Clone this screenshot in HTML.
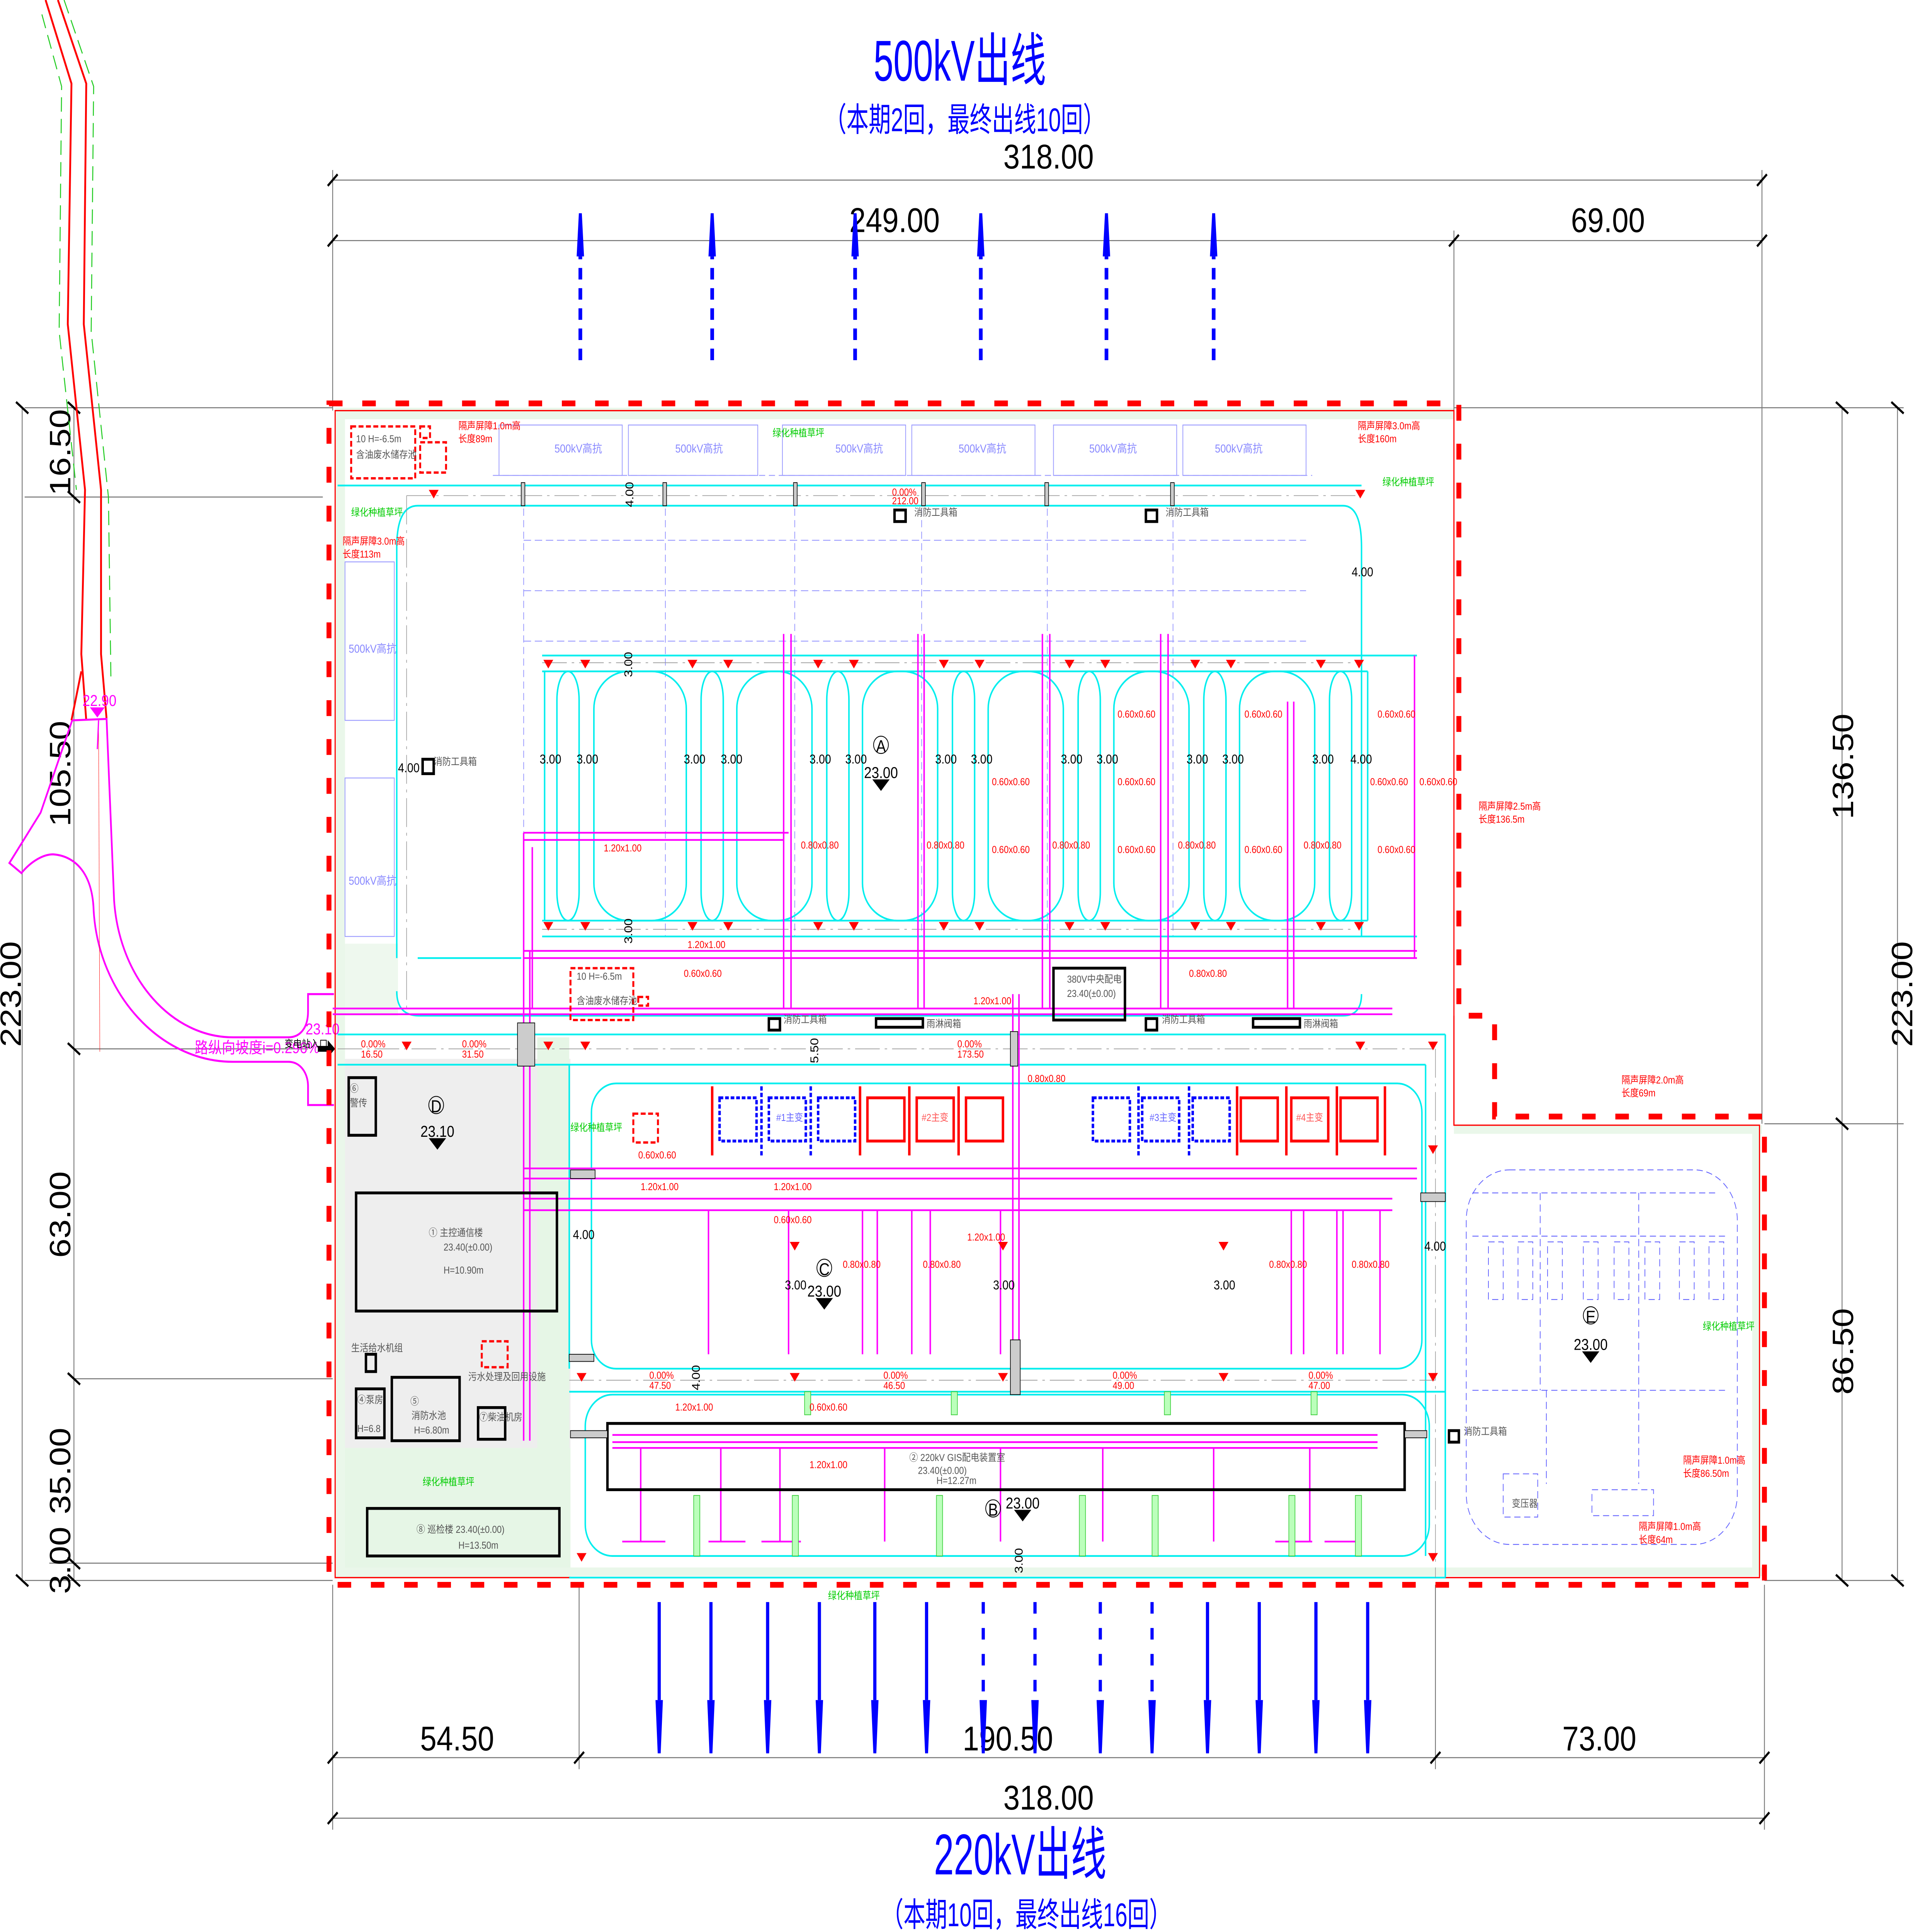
<!DOCTYPE html>
<html><head><meta charset="utf-8"><style>
html,body{margin:0;padding:0;background:#fff;width:100%;height:100%;overflow:hidden;}
svg{display:block;position:fixed;left:0;top:0;width:100vw;height:100vh;}
text{font-family:"Liberation Sans Narrow","Liberation Sans","Noto Sans CJK SC",sans-serif;}
</style></head><body>
<svg viewBox="0 0 1568 1341" preserveAspectRatio="none" xmlns="http://www.w3.org/2000/svg">
<defs>
<g id="rt"><path d="M-4,0 L4,0 L0,6 Z" fill="#f00"/></g>
<g id="bt"><path d="M-7,0 L7,0 L0,8 Z" fill="#000"/></g>
<g id="ad"><rect x="-1.3" y="0" width="2.6" height="68" fill="#00f"/><path d="M-3,68 L3,68 L1.2,105 L-1.2,105 Z" fill="#00f"/></g>
<g id="add"><path d="M0,0 V68" stroke="#00f" stroke-width="2.6" stroke-dasharray="8,10"/><path d="M-3,68 L3,68 L1.2,105 L-1.2,105 Z" fill="#00f"/></g>
<g id="au"><path d="M0,102 V30" stroke="#00f" stroke-width="3" stroke-dasharray="8,6"/><path d="M-3,30 L3,30 L1.2,0 L-1.2,0 Z" fill="#00f"/></g>
</defs>
<rect width="1568" height="1341" fill="#fff"/>

<rect x="273" y="655" width="50" height="50" fill="#eef8ee"/>
<rect x="273" y="735" width="190" height="270" fill="#eeeeee"/>
<rect x="273" y="1005" width="190" height="90" fill="#e6f6e6"/>
<rect x="436" y="720" width="26" height="285" fill="#e6f6e6"/>
<rect x="272" y="283" width="908" height="8" fill="#eaf7ea"/>
<rect x="272" y="283" width="8" height="812" fill="#eaf7ea"/>
<rect x="1180" y="781" width="250" height="6" fill="#eaf7ea"/>
<rect x="1422" y="781" width="7" height="312" fill="#eaf7ea"/>
<rect x="272" y="1088" width="1158" height="6" fill="#eaf7ea"/>

<g stroke="#777" stroke-width="0.7" fill="none">
<path d="M270,125 H1430 M270,167 H1430 M470,1220 H1432 M270,1220 H470 M270,1262 H1432"/>
<path d="M270,118 V285 M1430,118 V780 M1180,160 V285"/>
<path d="M270,1100 V1270 M470,1100 V1228 M1165,1100 V1228 M1432,1100 V1270"/>
<path d="M60,283 V1097 M18,283 V1097 M20,283 H270 M20,345 H262 M60,728 H250 M60,957 H270 M20,1097 H270 M40,1085 H270"/>
<path d="M1495,283 V1097 M1540,283 V1097 M1180,283 H1545 M1432,780 H1545 M1432,1097 H1545"/>
</g>
<g stroke="#000" stroke-width="1.6">
<path d="M266,129 L274,121 M1426,129 L1434,121 M266,171 L274,163 M1176,171 L1184,163 M1426,171 L1434,163"/>
<path d="M266,1224 L274,1216 M466,1224 L474,1216 M1161,1224 L1169,1216 M1428,1224 L1436,1216 M266,1266 L274,1258 M1428,1266 L1436,1258"/>
<path d="M55,279 L65,287 M55,341 L65,349 M55,724 L65,732 M55,953 L65,961 M55,1081 L65,1089 M55,1093 L65,1101 M13,279 L23,287 M13,1093 L23,1101"/>
<path d="M1490,279 L1500,287 M1490,776 L1500,784 M1490,1093 L1500,1101 M1535,279 L1545,287 M1535,1093 L1545,1101"/>
</g>
<g fill="#000" font-size="24">
<text x="851" y="117" text-anchor="middle">318.00</text>
<text x="726" y="161" text-anchor="middle">249.00</text>
<text x="1305" y="161" text-anchor="middle">69.00</text>
<text x="371" y="1215" text-anchor="middle">54.50</text>
<text x="818" y="1215" text-anchor="middle">190.50</text>
<text x="1298" y="1215" text-anchor="middle">73.00</text>
<text x="851" y="1256" text-anchor="middle">318.00</text>
<text transform="translate(57,314) rotate(-90)" text-anchor="middle">16.50</text>
<text transform="translate(57,537) rotate(-90)" text-anchor="middle">105.50</text>
<text transform="translate(17,690) rotate(-90)" text-anchor="middle">223.00</text>
<text transform="translate(57,843) rotate(-90)" text-anchor="middle">63.00</text>
<text transform="translate(57,1021) rotate(-90)" text-anchor="middle">35.00</text>
<text transform="translate(57,1083) rotate(-90)" text-anchor="middle">3.00</text>
<text transform="translate(1504,532) rotate(-90)" text-anchor="middle">136.50</text>
<text transform="translate(1552,690) rotate(-90)" text-anchor="middle">223.00</text>
<text transform="translate(1504,938) rotate(-90)" text-anchor="middle">86.50</text>
</g>

<text x="779" y="56" fill="#00f" font-size="40" text-anchor="middle" textLength="140" lengthAdjust="spacingAndGlyphs">500kV出线</text>
<text x="783" y="91" fill="#00f" font-size="23" text-anchor="middle" textLength="228" lengthAdjust="spacingAndGlyphs">（本期2回，最终出线10回）</text>
<text x="828" y="1301" fill="#00f" font-size="40" text-anchor="middle" textLength="140" lengthAdjust="spacingAndGlyphs">220kV出线</text>
<text x="833" y="1337" fill="#00f" font-size="23" text-anchor="middle" textLength="235" lengthAdjust="spacingAndGlyphs">（本期10回，最终出线16回）</text>

<use href="#au" x="471" y="148"/><use href="#au" x="578" y="148"/><use href="#au" x="694" y="148"/>
<use href="#au" x="796" y="148"/><use href="#au" x="898" y="148"/><use href="#au" x="985" y="148"/>
<use href="#ad" x="535" y="1112"/><use href="#ad" x="577" y="1112"/><use href="#ad" x="623" y="1112"/>
<use href="#ad" x="665" y="1112"/><use href="#ad" x="710" y="1112"/><use href="#ad" x="752" y="1112"/>
<use href="#add" x="798" y="1112"/><use href="#add" x="840" y="1112"/><use href="#add" x="893" y="1112"/><use href="#add" x="935" y="1112"/>
<use href="#ad" x="980" y="1112"/><use href="#ad" x="1022" y="1112"/><use href="#ad" x="1068" y="1112"/><use href="#ad" x="1110" y="1112"/>

<g fill="none">
<path d="M37,0 L58,58 L55,225 L69,340 L66,454 L70,500" stroke="#f00" stroke-width="1.5"/>
<path d="M47,0 L70,58 L68,225 L82,340 L82,454 L86.5,499" stroke="#f00" stroke-width="1.5"/>
<path d="M66,466 L58,500" stroke="#f00" stroke-width="1.5"/>
<path d="M52,0 L76,60 L74,230 L88,345 L90,470" stroke="#2c2" stroke-width="0.8" stroke-dasharray="10,5"/>
<path d="M34,10 L50,60 L48,230 L62,340" stroke="#2c2" stroke-width="0.8" stroke-dasharray="10,5"/>
<path d="M58.6,500 L33,564 L7.6,599 L17.4,606 C25,598 35,593 43,593 C60,594 75,605 76,632 C80,690 130,737 189,737 L234,737 C244,737 250,745 250,754 L250,767 L271,767" stroke="#f0f" stroke-width="1.4"/>
<path d="M58.6,500 L86.5,499 L92.6,625 C97,680 140,720 189,720 L234,720 C244,720 250,713 250,702 L250,690 L271,690" stroke="#f0f" stroke-width="1.4"/>
<path d="M80,500 L81,730" stroke="#f00" stroke-width="0.3"/>
<path d="M80,500 L79,520" stroke="#f0f" stroke-width="1"/>
</g>
<path d="M73,491 L85,491 L79,498 Z" fill="#f0f"/>
<text x="67" y="490" fill="#f0f" font-size="11">22.90</text>
<text x="158" y="731" fill="#f0f" font-size="11">路纵向坡度i=0.296%</text>
<text x="231" y="727" fill="#000" font-size="7">变电站入口</text>
<text x="248" y="718" fill="#f0f" font-size="11">23.10</text>
<path d="M258,726 L266,726 L266,722 L272,728 L266,734 L266,730 L258,730 Z" fill="#000"/>

<path d="M267,280 H1184 V705 H1213 V775 H1432 V1100 H267 Z" fill="none" stroke="#f00" stroke-width="4" stroke-dasharray="11,16"/>
<path d="M272,285 H1180 V781 H1428 V1095 H272 Z" fill="none" stroke="#f00" stroke-width="0.9"/>
<path d="M1180,705 V781" stroke="#f00" stroke-width="0.9"/>

<g fill="none" stroke="#99f" stroke-width="0.6">
<rect x="405" y="295" width="100" height="35"/><rect x="510" y="295" width="105" height="35"/>
<rect x="635" y="295" width="100" height="35"/><rect x="740" y="295" width="100" height="35"/>
<rect x="855" y="295" width="100" height="35"/><rect x="960" y="295" width="100" height="35"/>
<rect x="280" y="390" width="40" height="110"/><rect x="280" y="540" width="40" height="110"/>
<path d="M400,330 H1065 M425,345 V650 M540,345 V650 M645,345 V650 M748,345 V650 M850,345 V650 M952,345 V650" stroke-dasharray="5,3"/>
<path d="M425,375 H1060 M425,410 H1060 M425,445 H1060" stroke-dasharray="6,3"/>
</g>
<g fill="#88f" font-size="8">
<text x="450" y="314">500kV高抗</text><text x="548" y="314">500kV高抗</text><text x="678" y="314">500kV高抗</text>
<text x="778" y="314">500kV高抗</text><text x="884" y="314">500kV高抗</text><text x="986" y="314">500kV高抗</text>
<text x="283" y="453">500kV高抗</text><text x="283" y="614">500kV高抗</text>
</g>

<g fill="none" stroke="#0ee" stroke-width="1.2">
<path d="M339,351 Q322,351 322,380 L322,665"/>
<path d="M274,337 H1105"/>
<path d="M339,351 H1090 Q1105,351 1105,380 L1105,650"/>
<path d="M339,665 H423"/>
<path d="M440,455 H1150 M440,466 H1110"/>
<path d="M440,639 H1110 M440,650 H1150"/>
<path d="M442,466 V639 M1110,466 V639"/>
<rect x="482" y="466" width="75" height="173" rx="28" ry="26"/>
<rect x="598" y="466" width="61" height="173" rx="28" ry="26"/>
<rect x="700" y="466" width="61" height="173" rx="28" ry="26"/>
<rect x="802" y="466" width="61" height="173" rx="28" ry="26"/>
<rect x="904" y="466" width="61" height="173" rx="28" ry="26"/>
<rect x="1006" y="466" width="61" height="173" rx="28" ry="26"/>
<rect x="452" y="466" width="18" height="173" rx="9" ry="20"/>
<rect x="569" y="466" width="18" height="173" rx="9" ry="20"/>
<rect x="671" y="466" width="18" height="173" rx="9" ry="20"/>
<rect x="773" y="466" width="18" height="173" rx="9" ry="20"/>
<rect x="875" y="466" width="18" height="173" rx="9" ry="20"/>
<rect x="977" y="466" width="18" height="173" rx="9" ry="20"/>
<rect x="1079" y="466" width="18" height="173" rx="9" ry="20"/>
<path d="M274,718 H1173 M274,739 H1157"/>
<path d="M340,705 Q322,705 322,688 M340,705 H1090 Q1105,705 1105,690"/>
<path d="M462,739 V950 M1157,739 V1080 M1173,718 V1095"/>
<rect x="480" y="752" width="674" height="198" rx="20"/>
<path d="M462,966 H1173"/>
<rect x="475" y="968" width="685" height="112" rx="22"/>
<path d="M462,1095 H1173"/>
</g>
<g stroke="#999" stroke-width="0.5" fill="none" stroke-dasharray="20,4,2,4">
<path d="M330,344 H1100 M440,460 H1100 M440,645 H1100 M274,728 H1165 M462,958 H1165 M1165,728 V1095 M330,344 V700"/>
</g>

<g fill="none" stroke="#f0f" stroke-width="1.2">
<path d="M425,578 H640 M425,583 H636 M432,588 V700"/>
<path d="M425,578 V1000 M430,660 V1000"/>
<path d="M636,440 V700 M642,440 V700 M745,440 V700 M750,440 V700 M846,440 V700 M852,440 V700 M942,440 V700 M948,440 V700 M1045,487 V700 M1050,487 V700 M1148,455 V665"/>
<path d="M425,660 H1150 M425,665 H1150"/>
<path d="M270,700 H1130 M270,704 H1130"/>
<path d="M425,811 H1150 M425,818 H1150 M425,832 H1130 M425,840 H1130"/>
<path d="M822,690 V960 M827,690 V960"/>
<path d="M575,840 V940 M640,840 V940 M700,840 V940 M712,840 V940 M740,840 V940 M755,840 V940 M812,840 V940 M1048,840 V940 M1058,840 V940 M1085,840 V940 M1090,840 V940 M1120,840 V940"/>
<path d="M497,996 H1118 M497,1001 H1118 M497,1005 H1118"/>
<path d="M520,1005 V1070 M585,1005 V1070 M633,1005 V1070 M718,1005 V1070 M812,1005 V1070 M895,1005 V1070 M985,1005 V1070 M1063,1005 V1070"/>
<path d="M505,1070 H540 M575,1070 H605 M618,1070 H650 M1035,1070 H1065 M1075,1070 H1105"/>
</g>
<g fill="#bfb" stroke="#3c3" stroke-width="0.5">
<rect x="563" y="1038" width="5" height="42"/><rect x="643" y="1038" width="5" height="42"/><rect x="760" y="1038" width="5" height="42"/>
<rect x="876" y="1038" width="5" height="42"/><rect x="935" y="1038" width="5" height="42"/><rect x="1046" y="1038" width="5" height="42"/><rect x="1100" y="1038" width="5" height="42"/>
<rect x="653" y="966" width="5" height="16"/><rect x="772" y="966" width="5" height="16"/><rect x="945" y="966" width="5" height="16"/><rect x="1064" y="966" width="5" height="16"/>
</g>

<g fill="none" stroke-width="2">
<g stroke="#00f" stroke-dasharray="3,1.5">
<rect x="584" y="762" width="30" height="30"/><rect x="624" y="762" width="30" height="30"/><rect x="664" y="762" width="30" height="30"/>
<rect x="887" y="762" width="30" height="30"/><rect x="927" y="762" width="30" height="30"/><rect x="968" y="762" width="30" height="30"/>
<path d="M618,754 V802 M658,754 V802 M924,754 V802 M965,754 V802"/>
</g>
<g stroke="#f00">
<rect x="704" y="762" width="30" height="30"/><rect x="744" y="762" width="30" height="30"/><rect x="784" y="762" width="30" height="30"/>
<rect x="1007" y="762" width="30" height="30"/><rect x="1048" y="762" width="30" height="30"/><rect x="1088" y="762" width="30" height="30"/>
<path d="M578,754 V802 M698,754 V802 M738,754 V802 M778,754 V802 M1004,754 V802 M1044,754 V802 M1085,754 V802 M1124,754 V802"/>
</g>
</g>
<g font-size="7"><text x="630" y="778" fill="#66f">#1主变</text><text x="748" y="778" fill="#f55">#2主变</text><text x="933" y="778" fill="#66f">#3主变</text><text x="1052" y="778" fill="#f55">#4主变</text></g>

<g fill="none" stroke="#000" stroke-width="2">
<rect x="289" y="828" width="163" height="82"/>
<rect x="298" y="1047" width="156" height="33"/>
<rect x="318" y="956" width="55" height="44"/>
<rect x="289" y="964" width="23" height="34"/>
<rect x="388" y="977" width="22" height="22"/>
<rect x="283" y="748" width="22" height="40"/>
<rect x="493" y="988" width="647" height="46"/>
<rect x="297" y="940" width="8" height="12"/>
<rect x="855" y="672" width="58" height="36"/>
<rect x="711" y="707" width="38" height="6"/><rect x="1017" y="707" width="38" height="6"/>
<rect x="624" y="707" width="9" height="8"/><rect x="930" y="707" width="9" height="8"/>
<rect x="726" y="354" width="9" height="8"/><rect x="930" y="354" width="9" height="8"/>
<rect x="343" y="527" width="9" height="10"/><rect x="1176" y="993" width="8" height="8"/>
</g>
<g fill="none" stroke="#f00" stroke-width="1.6" stroke-dasharray="4,2">
<rect x="285" y="296" width="52" height="36"/><rect x="341" y="307" width="21" height="21"/><rect x="341" y="296" width="8" height="8"/>
<rect x="463" y="672" width="51" height="36"/><rect x="518" y="692" width="8" height="6"/>
<rect x="514" y="773" width="20" height="20"/>
<rect x="391" y="931" width="21" height="18"/>
</g>
<g fill="none" stroke="#66f" stroke-width="0.6" stroke-dasharray="5,3">
<rect x="1190" y="812" width="220" height="260" rx="35"/>
<path d="M1195,828 H1395 M1195,858 H1400 M1195,965 H1400 M1250,828 V965 M1330,828 V965 M1255,965 V1030 M1330,965 V1030"/>
<rect x="1208" y="862" width="12" height="40"/><rect x="1232" y="862" width="12" height="40"/><rect x="1256" y="862" width="12" height="40"/>
<rect x="1285" y="862" width="12" height="40"/><rect x="1310" y="862" width="12" height="40"/><rect x="1335" y="862" width="12" height="40"/>
<rect x="1363" y="862" width="12" height="40"/><rect x="1387" y="862" width="12" height="40"/>
<rect x="1220" y="1023" width="28" height="30"/><rect x="1292" y="1034" width="50" height="18"/>
</g>

<g>
<circle cx="715" cy="517" r="6" fill="none" stroke="#000" stroke-width="0.6"/><text x="715" y="522" font-size="12" text-anchor="middle">A</text>
<text x="715" y="540" font-size="11" text-anchor="middle">23.00</text><use href="#bt" x="715" y="541"/>
<circle cx="354" cy="767" r="6" fill="none" stroke="#000" stroke-width="0.6"/><text x="354" y="772" font-size="12" text-anchor="middle">D</text>
<text x="355" y="789" font-size="11" text-anchor="middle">23.10</text><use href="#bt" x="355" y="790"/>
<circle cx="669" cy="880" r="6" fill="none" stroke="#000" stroke-width="0.6"/><text x="669" y="885" font-size="12" text-anchor="middle">C</text>
<text x="669" y="900" font-size="11" text-anchor="middle">23.00</text><use href="#bt" x="669" y="901"/>
<circle cx="806" cy="1047" r="6" fill="none" stroke="#000" stroke-width="0.6"/><text x="806" y="1052" font-size="12" text-anchor="middle">B</text>
<text x="830" y="1047" font-size="11" text-anchor="middle">23.00</text><use href="#bt" x="830" y="1048"/>
<circle cx="1291" cy="913" r="6" fill="none" stroke="#000" stroke-width="0.6"/><text x="1291" y="918" font-size="12" text-anchor="middle">E</text>
<text x="1291" y="937" font-size="11" text-anchor="middle">23.00</text><use href="#bt" x="1291" y="938"/>
<g font-size="7" fill="#555">
<text x="348" y="858">① 主控通信楼</text><text x="360" y="868">23.40(±0.00)</text><text x="360" y="884">H=10.90m</text>
<text x="338" y="1064">⑧ 巡检楼  23.40(±0.00)</text><text x="372" y="1075">H=13.50m</text>
<text x="333" y="975">⑤</text><text x="334" y="985">消防水池</text><text x="336" y="995">H=6.80m</text>
<text x="290" y="974">④泵房</text><text x="290" y="994">H=6.8</text>
<text x="389" y="986">⑦柴油机房</text>
<text x="284" y="758">⑥</text><text x="284" y="768">警传</text>
<text x="285" y="938">生活给水机组</text><text x="380" y="958">污水处理及回用设施</text>
<text x="738" y="1014">② 220kV GIS配电装置室</text><text x="745" y="1023">23.40(±0.00)</text><text x="760" y="1030">H=12.27m</text>
<text x="866" y="682">380V中央配电</text><text x="866" y="692">23.40(±0.00)</text>
<text x="289" y="307">10 H=-6.5m</text><text x="289" y="318">含油废水储存池</text>
<text x="468" y="680">10 H=-6.5m</text><text x="468" y="697">含油废水储存池</text>
<text x="352" y="531">消防工具箱</text><text x="742" y="358">消防工具箱</text><text x="946" y="358">消防工具箱</text>
<text x="636" y="710">消防工具箱</text><text x="943" y="710">消防工具箱</text><text x="752" y="713">雨淋阀箱</text><text x="1058" y="713">雨淋阀箱</text>
<text x="1188" y="996">消防工具箱</text><text x="1227" y="1046">变压器</text>
</g>
<g font-size="9" fill="#000">
<text x="438" y="530">3.00</text><text x="468" y="530">3.00</text><text x="555" y="530">3.00</text><text x="585" y="530">3.00</text>
<text x="657" y="530">3.00</text><text x="686" y="530">3.00</text><text x="759" y="530">3.00</text><text x="788" y="530">3.00</text>
<text x="861" y="530">3.00</text><text x="890" y="530">3.00</text><text x="963" y="530">3.00</text><text x="992" y="530">3.00</text>
<text x="1065" y="530">3.00</text><text x="1096" y="530">4.00</text><text x="323" y="536">4.00</text><text x="1097" y="400">4.00</text>
<text x="637" y="895">3.00</text><text x="806" y="895">3.00</text><text x="985" y="895">3.00</text>
<text x="465" y="860">4.00</text><text x="1156" y="868">4.00</text>
<text transform="translate(513,470) rotate(-90)">3.00</text><text transform="translate(513,655) rotate(-90)">3.00</text>
<text transform="translate(514,352) rotate(-90)">4.00</text><text transform="translate(664,738) rotate(-90)">5.50</text>
<text transform="translate(568,965) rotate(-90)">4.00</text><text transform="translate(830,1092) rotate(-90)">3.00</text>
</g>
<g font-size="7" fill="#f00">
<text x="490" y="591">1.20x1.00</text><text x="558" y="658">1.20x1.00</text><text x="555" y="678">0.60x0.60</text>
<text x="790" y="697">1.20x1.00</text><text x="965" y="678">0.80x0.80</text><text x="834" y="751">0.80x0.80</text>
<text x="520" y="826">1.20x1.00</text><text x="628" y="826">1.20x1.00</text><text x="628" y="849">0.60x0.60</text>
<text x="518" y="804">0.60x0.60</text><text x="684" y="880">0.80x0.80</text><text x="749" y="880">0.80x0.80</text>
<text x="785" y="861">1.20x1.00</text><text x="1030" y="880">0.80x0.80</text><text x="1097" y="880">0.80x0.80</text>
<text x="548" y="979">1.20x1.00</text><text x="657" y="979">0.60x0.60</text><text x="657" y="1019">1.20x1.00</text>
<text x="650" y="589">0.80x0.80</text><text x="752" y="589">0.80x0.80</text><text x="854" y="589">0.80x0.80</text><text x="956" y="589">0.80x0.80</text><text x="1058" y="589">0.80x0.80</text>
<text x="805" y="545">0.60x0.60</text><text x="907" y="545">0.60x0.60</text><text x="1112" y="545">0.60x0.60</text><text x="1152" y="545">0.60x0.60</text>
<text x="907" y="498">0.60x0.60</text><text x="1010" y="498">0.60x0.60</text><text x="1118" y="498">0.60x0.60</text>
<text x="805" y="592">0.60x0.60</text><text x="907" y="592">0.60x0.60</text><text x="1010" y="592">0.60x0.60</text><text x="1118" y="592">0.60x0.60</text>
<text x="372" y="298">隔声屏障1.0m高</text><text x="372" y="307">长度89m</text>
<text x="278" y="378">隔声屏障3.0m高</text><text x="278" y="387">长度113m</text>
<text x="1102" y="298">隔声屏障3.0m高</text><text x="1102" y="307">长度160m</text>
<text x="1200" y="562">隔声屏障2.5m高</text><text x="1200" y="571">长度136.5m</text>
<text x="1316" y="752">隔声屏障2.0m高</text><text x="1316" y="761">长度69m</text>
<text x="1366" y="1016">隔声屏障1.0m高</text><text x="1366" y="1025">长度86.50m</text>
<text x="1330" y="1062">隔声屏障1.0m高</text><text x="1330" y="1071">长度64m</text>
<text x="293" y="727">0.00%</text><text x="293" y="734">16.50</text><text x="375" y="727">0.00%</text><text x="375" y="734">31.50</text>
<text x="777" y="727">0.00%</text><text x="777" y="734">173.50</text><text x="724" y="344">0.00%</text><text x="724" y="350">212.00</text>
<text x="527" y="957">0.00%</text><text x="527" y="964">47.50</text><text x="717" y="957">0.00%</text><text x="717" y="964">46.50</text>
<text x="903" y="957">0.00%</text><text x="903" y="964">49.00</text><text x="1062" y="957">0.00%</text><text x="1062" y="964">47.00</text>
</g>
<g font-size="7" fill="#0c0">
<text x="627" y="303">绿化种植草坪</text><text x="285" y="358">绿化种植草坪</text><text x="1122" y="337">绿化种植草坪</text>
<text x="463" y="785">绿化种植草坪</text><text x="343" y="1031">绿化种植草坪</text><text x="1382" y="923">绿化种植草坪</text><text x="672" y="1110">绿化种植草坪</text>
</g>
</g>
<g>
<use href="#rt" x="445" y="458"/><use href="#rt" x="475" y="458"/><use href="#rt" x="562" y="458"/><use href="#rt" x="591" y="458"/>
<use href="#rt" x="664" y="458"/><use href="#rt" x="693" y="458"/><use href="#rt" x="766" y="458"/><use href="#rt" x="795" y="458"/>
<use href="#rt" x="868" y="458"/><use href="#rt" x="897" y="458"/><use href="#rt" x="970" y="458"/><use href="#rt" x="999" y="458"/>
<use href="#rt" x="1072" y="458"/><use href="#rt" x="1103" y="458"/>
<use href="#rt" x="445" y="640"/><use href="#rt" x="475" y="640"/><use href="#rt" x="562" y="640"/><use href="#rt" x="591" y="640"/>
<use href="#rt" x="664" y="640"/><use href="#rt" x="693" y="640"/><use href="#rt" x="766" y="640"/><use href="#rt" x="795" y="640"/>
<use href="#rt" x="868" y="640"/><use href="#rt" x="897" y="640"/><use href="#rt" x="970" y="640"/><use href="#rt" x="999" y="640"/>
<use href="#rt" x="1072" y="640"/><use href="#rt" x="1103" y="640"/>
<use href="#rt" x="330" y="723"/><use href="#rt" x="445" y="723"/><use href="#rt" x="475" y="723"/><use href="#rt" x="1104" y="723"/><use href="#rt" x="1163" y="723"/>
<use href="#rt" x="645" y="862"/><use href="#rt" x="814" y="862"/><use href="#rt" x="993" y="862"/><use href="#rt" x="1163" y="795"/>
<use href="#rt" x="472" y="953"/><use href="#rt" x="645" y="953"/><use href="#rt" x="814" y="953"/><use href="#rt" x="993" y="953"/><use href="#rt" x="1163" y="953"/><use href="#rt" x="1163" y="1078"/>
<use href="#rt" x="472" y="1078"/><use href="#rt" x="1104" y="340"/><use href="#rt" x="352" y="340"/>
</g>
<g stroke="#000" stroke-width="0.5" fill="#ccc">
<rect x="423" y="335" width="3" height="16"/><rect x="538" y="335" width="3" height="16"/><rect x="644" y="335" width="3" height="16"/>
<rect x="748" y="335" width="3" height="16"/><rect x="848" y="335" width="3" height="16"/><rect x="950" y="335" width="3" height="16"/>
<rect x="420" y="710" width="14" height="30"/><rect x="820" y="716" width="6" height="24"/><rect x="820" y="930" width="8" height="38"/>
<rect x="463" y="812" width="20" height="6"/><rect x="1153" y="828" width="20" height="6"/><rect x="462" y="940" width="20" height="5"/>
<rect x="463" y="993" width="30" height="5"/><rect x="1140" y="993" width="18" height="5"/>
</g>
</svg>
</body></html>
